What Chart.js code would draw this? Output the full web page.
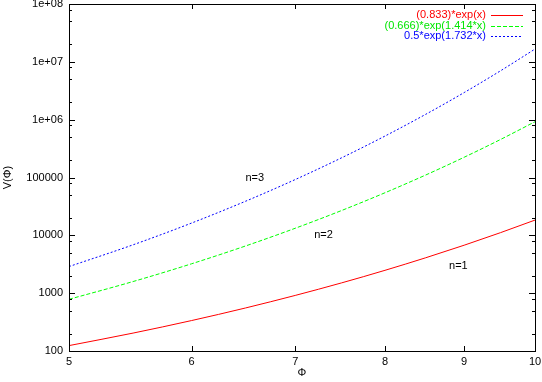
<!DOCTYPE html>
<html>
<head>
<meta charset="utf-8">
<script src="https://cdn.jsdelivr.net/npm/chart.js@4/dist/chart.umd.min.js"></script>
<style>
  body { margin: 0; background: #fff; }
</style>
</head>
<body>
<canvas id="chart" width="542" height="382"></canvas>
<script>
// values
const xValues = [5, 5.5, 6, 6.5, 7, 7.5, 8, 8.5, 9, 9.5, 10];
const redValues = [124, 204, 336, 554, 914, 1506, 2483, 4094, 6750, 11130, 18350];
const greenValues = [783, 1589, 3221, 6533, 13250, 26860, 54480, 110500, 224000, 454300, 921300];
const blueValues = [2884, 6856, 16300, 38750, 92120, 219000, 520700, 1238000, 2943000, 6996000, 16630000];

const seriesNames = ["(0.833)*exp(x)", "(0.666)*exp(1.414*x)", "0.5*exp(1.732*x)"];

const xTicks = [5, 6, 7, 8, 9, 10];
const yTicks = [100, 1000, 10000, 100000, 1e6, 1e7, 1e8];
const yTickLabels = ["100", "1000", "10000", "100000", "1e+06", "1e+07", "1e+08"];

const curveLabels = ["n=1", "n=2", "n=3"];
const curveLabelX = [8.8, 7.2, 6.5];
const curveLabelY = [3000, 10000, 100000];

const FONT = "Liberation Sans, Arial, Helvetica, sans-serif";

function points(ys) {
    return xValues.map((x, i) => ({ x: x, y: ys[i] }));
}

// white background
const bgPlugin = {
    id: "bg",
    beforeDraw(chart) {
        const ctx = chart.ctx;
        ctx.save();
        ctx.fillStyle = "#fff";
        ctx.fillRect(0, 0, chart.width, chart.height);
        ctx.restore();
    }
};

// gnuplot style border, inward ticks, legend and curve labels
const framePlugin = {
    id: "frame",
    afterDraw(chart) {
        const ctx = chart.ctx;
        const a = chart.chartArea;
        const xs = chart.scales.x;
        const ys = chart.scales.y;
        ctx.save();
        ctx.strokeStyle = "#000";
        ctx.lineWidth = 1;

        // y ticks (major + minor), both sides
        yTicks.forEach((v, i) => {
            const py = Math.round(ys.getPixelForValue(v)) + 0.5;
            ctx.beginPath();
            ctx.moveTo(a.left, py); ctx.lineTo(a.left + 6, py);
            ctx.moveTo(a.right, py); ctx.lineTo(a.right - 6, py);
            ctx.stroke();
            if (i < yTicks.length - 1) {
                [2, 5, 8].forEach(m => {
                    const my = Math.round(ys.getPixelForValue(v * m)) + 0.5;
                    ctx.beginPath();
                    ctx.moveTo(a.left, my); ctx.lineTo(a.left + 3, my);
                    ctx.moveTo(a.right, my); ctx.lineTo(a.right - 3, my);
                    ctx.stroke();
                });
            }
        });

        // x ticks, both sides
        xTicks.forEach(v => {
            const px = Math.round(xs.getPixelForValue(v)) + 0.5;
            ctx.beginPath();
            ctx.moveTo(px, a.bottom); ctx.lineTo(px, a.bottom - 5);
            ctx.moveTo(px, a.top); ctx.lineTo(px, a.top + 5);
            ctx.stroke();
        });

        ctx.strokeRect(Math.round(a.left) + 0.5, Math.round(a.top) + 0.5,
            Math.round(a.right - a.left), Math.round(a.bottom - a.top));

        // legend
        ctx.font = "11px " + FONT;
        ctx.textBaseline = "middle";
        ctx.textAlign = "right";
        chart.data.datasets.forEach((ds, i) => {
            const ry = 15 + i * 10.6;
            ctx.fillStyle = ds.textColor;
            ctx.fillText(ds.label, 486, ry);
            ctx.strokeStyle = ds.borderColor;
            ctx.setLineDash(ds.borderDash || []);
            ctx.beginPath();
            ctx.moveTo(491, Math.round(ry) + 0.5);
            ctx.lineTo(523, Math.round(ry) + 0.5);
            ctx.stroke();
        });
        ctx.setLineDash([]);

        // curve labels
        ctx.fillStyle = "#000";
        ctx.textAlign = "left";
        curveLabels.forEach((t, i) => {
            ctx.fillText(t, xs.getPixelForValue(curveLabelX[i]), ys.getPixelForValue(curveLabelY[i]));
        });
        ctx.restore();
    }
};

function noPad(scale) {
    scale.paddingTop = 0;
    scale.paddingBottom = 0;
    scale.paddingLeft = 0;
    scale.paddingRight = 0;
}

new Chart(document.getElementById("chart"), {
    type: "line",
    data: {
        datasets: [
            {
                label: seriesNames[0],
                data: points(redValues),
                borderColor: "rgb(255,0,0)",
                textColor: "rgb(255,0,0)",
                borderWidth: 1
            },
            {
                label: seriesNames[1],
                data: points(greenValues),
                borderColor: "rgb(0,255,0)",
                textColor: "rgb(0,230,0)",
                borderWidth: 1,
                borderDash: [4, 2]
            },
            {
                label: seriesNames[2],
                data: points(blueValues),
                borderColor: "rgb(0,0,255)",
                textColor: "rgb(0,0,255)",
                borderWidth: 1,
                borderDash: [2, 2]
            }
        ]
    },
    options: {
        responsive: false,
        animation: false,
        devicePixelRatio: 1,
        layout: { padding: { top: 4, right: 7, left: 0, bottom: 0 } },
        elements: {
            point: { radius: 0 },
            line: { cubicInterpolationMode: "monotone" }
        },
        plugins: {
            legend: { display: false },
            tooltip: { enabled: false }
        },
        scales: {
            x: {
                type: "logarithmic",
                min: 5,
                max: 10,
                grid: { display: false, drawTicks: false },
                border: { display: false },
                afterBuildTicks(scale) {
                    scale.ticks = xTicks.map(v => ({ value: v }));
                },
                afterFit(scale) {
                    scale.height = 31;
                    noPad(scale);
                },
                ticks: {
                    color: "#000",
                    padding: 4,
                    maxRotation: 0,
                    autoSkip: false,
                    font: { family: FONT, size: 11 },
                    callback: v => String(v)
                },
                title: {
                    display: true,
                    text: "Φ",
                    color: "#000",
                    padding: { top: 0, bottom: 2 },
                    font: { family: FONT, size: 11 }
                }
            },
            y: {
                type: "logarithmic",
                min: 100,
                max: 1e8,
                grid: { display: false, drawTicks: false },
                border: { display: false },
                afterBuildTicks(scale) {
                    scale.ticks = yTicks.map(v => ({ value: v }));
                },
                afterFit(scale) {
                    scale.width = 69;
                    noPad(scale);
                },
                ticks: {
                    color: "#000",
                    padding: 6,
                    autoSkip: false,
                    font: { family: FONT, size: 11 },
                    callback: v => yTickLabels[yTicks.indexOf(v)]
                },
                title: {
                    display: true,
                    text: "V(Φ)",
                    color: "#000",
                    padding: { top: 1, bottom: 0 },
                    font: { family: FONT, size: 11 }
                }
            }
        }
    },
    plugins: [bgPlugin, framePlugin]
});
</script>
</body>
</html>
